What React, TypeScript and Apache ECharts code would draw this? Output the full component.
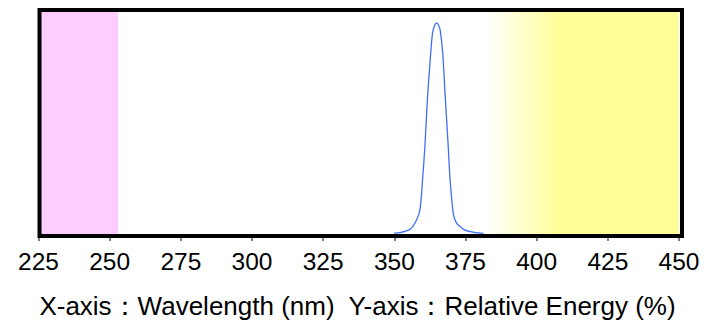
import React, { useEffect, useRef } from "react";
import * as echarts from "echarts";

const wavelengths = [
  350.0, 352.0, 354.0, 355.5, 356.5, 357.8, 359.0, 360.0, 360.8, 361.6, 362.6, 363.4,
  364.2, 364.9, 365.5, 366.1, 367.0, 367.8, 368.8, 369.6, 370.7, 371.5, 372.2, 373.1,
  374.5, 376.6, 378.5, 381.3,
];
const energy = [
  1.3, 1.6, 2.3, 3.1, 4.5, 7.5, 12.2, 27.8, 43.5, 63.8, 82.5, 95,
  99, 100, 99, 96.6, 85.7, 67, 45, 26.3, 10.6, 7, 5.5, 4.4,
  3, 2.0, 1.6, 1.2,
];
const xTicks = [225, 250, 275, 300, 325, 350, 375, 400, 425, 450];
const uvcBand = [225, 253];
const visibleBand = [382, 450];
const titleText = "X-axis：Wavelength (nm)  Y-axis：Relative Energy (%)";

export default function App() {
  const ref = useRef<HTMLDivElement>(null);
  useEffect(() => {
    if (!ref.current) return;
    const chart = echarts.init(ref.current, null, { renderer: "svg" });
    const font = "'Liberation Sans', Arial, sans-serif";
    chart.setOption({
      animation: false,
      backgroundColor: "#ffffff",
      title: {
        text: titleText,
        left: "center",
        top: 288,
        textStyle: { fontSize: 26, fontWeight: "normal", color: "#000", fontFamily: font },
      },
      grid: { left: 38.5, right: 36, top: 10, bottom: 88, containLabel: false },
      xAxis: {
        type: "value",
        min: xTicks[0],
        max: xTicks[xTicks.length - 1],
        interval: 25,
        axisLine: { show: false },
        axisTick: { show: true, length: 5, lineStyle: { color: "#555", width: 1.5 } },
        splitLine: { show: false },
        axisLabel: { fontSize: 24.5, color: "#000", fontFamily: font, margin: 13 },
      },
      yAxis: {
        type: "value",
        min: 0,
        max: 106,
        show: false,
        splitLine: { show: false },
      },
      graphic: [
        {
          type: "rect",
          z: 100,
          shape: { x: 39.5, y: 10, width: 642.5, height: 226 },
          style: { fill: "none", stroke: "#000", lineWidth: 4 },
        },
      ],
      series: [
        {
          type: "line",
          data: wavelengths.map((w, i) => [w, energy[i]]),
          showSymbol: false,
          smooth: 0.3,
          lineStyle: { color: "#3f6ff5", width: 1.3 },
          z: 5,
          markArea: {
            silent: true,
            data: [
              [
                { xAxis: uvcBand[0], itemStyle: { color: "#ffccff" } },
                { xAxis: uvcBand[1] },
              ],
              [
                {
                  xAxis: visibleBand[0],
                  itemStyle: {
                    color: new echarts.graphic.LinearGradient(0, 0, 1, 0, [
                      { offset: 0, color: "rgba(255,255,153,0)" },
                      { offset: 0.38, color: "#ffff99" },
                      { offset: 1, color: "#ffff99" },
                    ]),
                  },
                },
                { xAxis: visibleBand[1] },
              ],
            ],
          },
        },
      ],
    });
    return () => chart.dispose();
  }, []);
  return (
    <div
      ref={ref}
      style={{ position: "fixed", left: 0, top: 0, width: 715, height: 324 }}
    />
  );
}
